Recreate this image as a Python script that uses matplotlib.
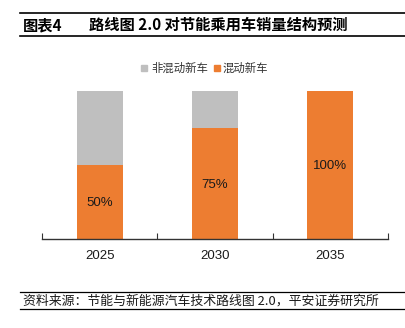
import numpy as np
import matplotlib
matplotlib.use("Agg")
import matplotlib.pyplot as plt
from matplotlib.patches import Rectangle
from matplotlib.lines import Line2D

plt.rcParams['font.family'] = ['Noto Sans CJK SC', 'DejaVu Sans']

# data
years = ['2025', '2030', '2035']
hybrid = [0.50, 0.75, 1.00]          # 混动新车
non_hybrid = [0.50, 0.25, 0.00]      # 非混动新车
labels = ['50%', '75%', '100%']

c_orange = '#ED7D31'
c_grey = '#BFBFBF'

W, H = 405, 328
fig = plt.figure(figsize=(W / 100, H / 100), dpi=100)

ax = fig.add_axes([42 / W, 89 / H, 346 / W, 148 / H])
x = np.arange(len(years))
ax.bar(x, hybrid, width=0.4, color=c_orange, label='混动新车')
ax.bar(x, non_hybrid, width=0.4, bottom=hybrid, color=c_grey, label='非混动新车')
for i in range(len(years)):
    ax.text(x[i], hybrid[i] / 2 - 0.01, labels[i], ha='center', va='center',
            fontsize=9.5, family=['Liberation Sans'], color='#1a1a1a')

ax.set_xlim(-0.5, len(years) - 0.5)
ax.set_ylim(0, 1)
ax.set_yticks([])
ax.set_xticks(np.arange(len(years) + 1) - 0.5)
ax.set_xticklabels([])
ax.tick_params(axis='x', direction='in', length=4, width=0.8, color='#333333')
for s in ['top', 'right', 'left']:
    ax.spines[s].set_visible(False)
ax.spines['bottom'].set_color('#333333')
ax.spines['bottom'].set_linewidth(1.0)
for i, y in enumerate(years):
    ax.text(x[i], -0.115, y, ha='center', va='center', fontsize=9.5,
            family=['Liberation Sans'], color='#1a1a1a')

# legend
fig.patches.append(Rectangle((141 / W, 1 - 71 / H), 6 / W, 6 / H, color=c_grey,
                             transform=fig.transFigure))
fig.text(151 / W, 1 - 68 / H, '非混动新车', fontsize=8.2, va='center', color='#333333')
fig.patches.append(Rectangle((214 / W, 1 - 71 / H), 6 / W, 6 / H, color=c_orange,
                             transform=fig.transFigure))
fig.text(223 / W, 1 - 68 / H, '混动新车', fontsize=8.2, va='center', color='#333333')

# title block
fig.lines.append(Line2D([20 / W, 1], [1 - 13 / H, 1 - 13 / H], color='black', lw=1.2,
                        transform=fig.transFigure))
fig.lines.append(Line2D([20 / W, 1], [1 - 36 / H, 1 - 36 / H], color='black', lw=1.2,
                        transform=fig.transFigure))
fig.text(23 / W, 1 - 25 / H, '图表4', fontsize=11, fontweight='bold', va='center')
fig.text(89 / W, 1 - 25 / H, '路线图 2.0 对节能乘用车销量结构预测', fontsize=11,
         fontweight='bold', va='center')

# source block
fig.lines.append(Line2D([20 / W, 1], [1 - 292 / H, 1 - 292 / H], color='black', lw=0.9,
                        transform=fig.transFigure))
fig.lines.append(Line2D([20 / W, 1], [1 - 309 / H, 1 - 309 / H], color='black', lw=0.9,
                        transform=fig.transFigure))
fig.text(23 / W, 1 - 301 / H, '资料来源：节能与新能源汽车技术路线图 2.0，平安证券研究所',
         fontsize=9.3, style='italic', va='center', color='#1a1a1a')

fig.savefig('out.png', dpi=100)
